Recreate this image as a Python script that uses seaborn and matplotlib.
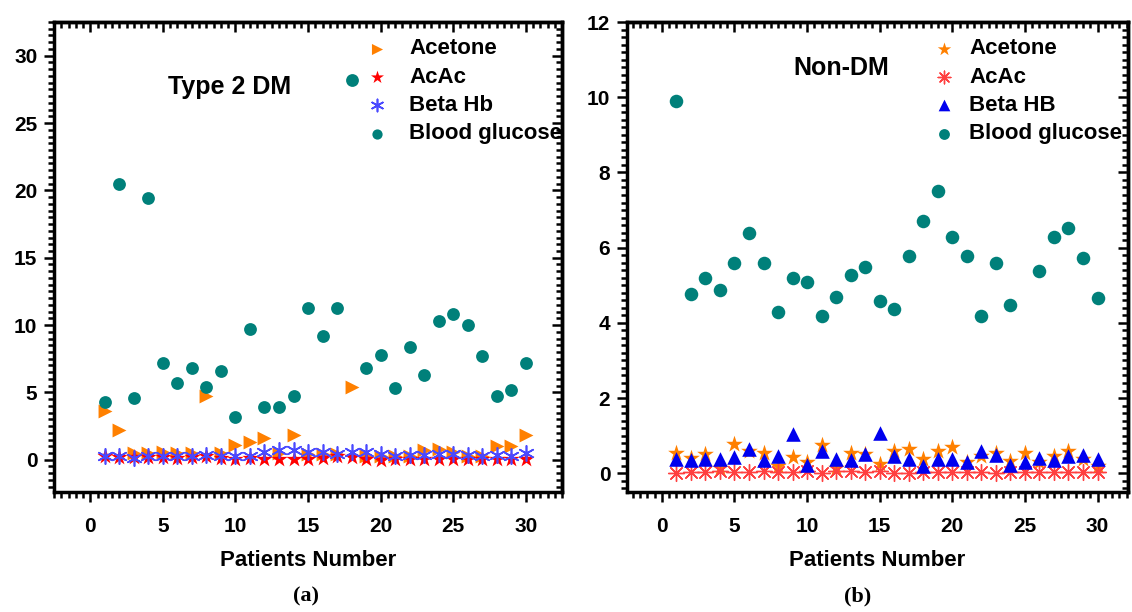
import numpy as np
import matplotlib
matplotlib.use("Agg")
import matplotlib.pyplot as plt
from matplotlib.ticker import MultipleLocator
import seaborn as sns

patients = list(range(1, 31))

# (a) Type 2 DM
t2_acetone = [3.6, 2.2, 0.5, 0.5, 0.6, 0.5, 0.5, 4.7, 0.5, 1.1, 1.3, 1.6, 0.5, 1.8, 0.4,
              0.4, 0.4, 5.4, 0.3, 0.3, 0.3, 0.3, 0.7, 0.8, 0.6, 0.3, 0.3, 1.0, 1.0, 1.8]
t2_acac = [0.25, 0.2, 0.2, 0.2, 0.2, 0.15, 0.2, 0.25, 0.15, 0.05, 0.1, 0.05, 0.05, 0.05, 0.05,
           0.1, 0.25, 0.2, 0.05, 0.0, 0.05, 0.05, 0.05, 0.05, 0.05, 0.05, 0.05, 0.05, 0.05, 0.05]
t2_betahb = [0.3, 0.3, 0.1, 0.3, 0.3, 0.3, 0.3, 0.35, 0.25, 0.25, 0.3, 0.6, 0.75, 0.75, 0.55,
             0.55, 0.4, 0.6, 0.6, 0.4, 0.3, 0.35, 0.35, 0.4, 0.4, 0.35, 0.3, 0.35, 0.3, 0.5]
t2_glucose = [4.3, 20.5, 4.6, 19.4, 7.2, 5.7, 6.8, 5.4, 6.6, 3.2, 9.7, 3.9, 3.9, 4.7, 11.3,
              9.2, 11.3, 28.2, 6.8, 7.8, 5.3, 8.4, 6.3, 10.3, 10.8, 10.0, 7.7, 4.7, 5.2, 7.2]

# (b) Non-DM
nd_acetone = [0.53, 0.4, 0.5, 0.15, 0.77, 0.6, 0.55, 0.18, 0.44, 0.3, 0.75, 0.15, 0.53, 0.5, 0.24,
              0.59, 0.64, 0.39, 0.59, 0.71, 0.29, 0.46, 0.53, 0.33, 0.53, 0.29, 0.46, 0.59, 0.37, 0.18]
nd_acac = [0.0, 0.02, 0.02, 0.05, 0.02, 0.02, 0.05, 0.02, 0.02, 0.05, 0.0, 0.05, 0.05, 0.03, 0.05,
           0.0, 0.0, 0.03, 0.02, 0.02, 0.02, 0.02, 0.0, 0.02, 0.02, 0.02, 0.02, 0.02, 0.02, 0.02]
nd_betahb = [0.37, 0.36, 0.37, 0.39, 0.42, 0.64, 0.36, 0.46, 1.04, 0.21, 0.58, 0.37, 0.35, 0.51, 1.06,
             0.46, 0.37, 0.18, 0.37, 0.39, 0.31, 0.59, 0.49, 0.23, 0.31, 0.41, 0.36, 0.46, 0.49, 0.39]
nd_glucose = [9.9, 4.78, 5.18, 4.88, 5.58, 6.38, 5.58, 4.3, 5.18, 5.08, 4.17, 4.68, 5.28, 5.48, 4.58,
              4.37, 5.79, 6.7, 7.5, 6.29, 5.79, 4.19, 5.58, 4.48, np.nan, 5.38, 6.29, 6.51, 5.72, 4.65]

sns.set_theme(style="ticks")
plt.rcParams["font.family"] = ["Liberation Sans", "DejaVu Sans"]
plt.rcParams["font.weight"] = "bold"
plt.rcParams["text.color"] = "black"
plt.rcParams["axes.labelcolor"] = "black"
plt.rcParams["xtick.color"] = "black"
plt.rcParams["ytick.color"] = "black"

fig = plt.figure(figsize=(11.32, 6.12), dpi=100)
ax_a = fig.add_axes([0.0477, 0.196, 0.4488, 0.768])
ax_b = fig.add_axes([0.5539, 0.196, 0.4426, 0.768])

teal = "#00807a"
orange = "#ff8000"

sns.scatterplot(x=patients, y=t2_acetone, marker=">", color=orange, s=100, linewidth=0, label="Acetone", ax=ax_a)
sns.scatterplot(x=patients, y=t2_acac, marker="*", color="#ff0000", s=150, linewidth=0, label="AcAc", ax=ax_a)
sns.scatterplot(x=patients, y=t2_betahb, marker=(6, 2, 0), color="#4a4aff", s=120, linewidth=1.2,
                label="Beta Hb", ax=ax_a)
sns.scatterplot(x=patients, y=t2_glucose, marker="o", color=teal, s=85, linewidth=0, label="Blood glucose", ax=ax_a)

sns.scatterplot(x=patients, y=nd_acetone, marker="*", color=orange, s=160, linewidth=0, label="Acetone", ax=ax_b)
sns.scatterplot(x=patients, y=nd_acac, marker=(8, 2, 0), color="#ff4040", s=130, linewidth=1.0,
                label="AcAc", ax=ax_b)
sns.scatterplot(x=patients, y=nd_betahb, marker="^", color="#0000ee", s=110, linewidth=0, label="Beta HB", ax=ax_b)
sns.scatterplot(x=patients, y=nd_glucose, marker="o", color=teal, s=95, linewidth=0, label="Blood glucose", ax=ax_b)


def style_axes(ax, xlim, ylim, ymajor, yminor):
    ax.set_xlim(*xlim)
    ax.set_ylim(*ylim)
    ax.xaxis.set_major_locator(MultipleLocator(5))
    ax.xaxis.set_minor_locator(MultipleLocator(0.5))
    ax.yaxis.set_major_locator(MultipleLocator(ymajor))
    ax.yaxis.set_minor_locator(MultipleLocator(yminor))
    ax.tick_params(which="both", direction="out", width=1.8, color="black", top=False, right=False)
    ax.tick_params(which="major", length=7)
    ax.tick_params(which="minor", length=4)
    ax.tick_params(axis="x", pad=11, labelsize=15)
    ax.tick_params(axis="y", pad=5, labelsize=15)
    for s in ax.spines.values():
        s.set_linewidth(2.5)
        s.set_color("black")
    top = ax.secondary_xaxis("top")
    top.xaxis.set_major_locator(MultipleLocator(5))
    top.xaxis.set_minor_locator(MultipleLocator(0.5))
    top.tick_params(which="both", direction="in", width=1.8, labeltop=False)
    top.tick_params(which="major", length=7)
    top.tick_params(which="minor", length=4)
    top.spines["top"].set_linewidth(2.5)
    right = ax.secondary_yaxis("right")
    right.yaxis.set_major_locator(MultipleLocator(ymajor))
    right.yaxis.set_minor_locator(MultipleLocator(yminor))
    right.tick_params(which="both", direction="in", width=1.8, labelright=False)
    right.tick_params(which="major", length=7)
    right.tick_params(which="minor", length=4)
    right.spines["right"].set_linewidth(2.5)
    ax.set_xlabel("Patients Number", fontsize=16, fontweight="bold", labelpad=10)
    ax.set_ylabel("")


style_axes(ax_a, (-2.5, 32.5), (-2.4, 32.5), 5, 0.5)
style_axes(ax_b, (-2.4, 32.1), (-0.5, 12), 2, 0.2)

ax_a.legend(loc="upper left", bbox_to_anchor=(0.616, 0.965), frameon=False,
            prop={"weight": "bold", "size": 16}, handlelength=0.9, handletextpad=1.0,
            labelspacing=0.33, borderpad=0, borderaxespad=0, markerscale=0.8)
ax_b.legend(loc="upper left", bbox_to_anchor=(0.612, 0.965), frameon=False,
            prop={"weight": "bold", "size": 16}, handlelength=0.9, handletextpad=0.7,
            labelspacing=0.33, borderpad=0, borderaxespad=0, markerscale=0.8)

ax_a.text(0.224, 0.862, "Type 2 DM", transform=ax_a.transAxes, fontsize=18, fontweight="bold", va="center")
ax_b.text(0.333, 0.902, "Non-DM", transform=ax_b.transAxes, fontsize=18, fontweight="bold", va="center")

fig.text(306 / 1132, 1 - 596 / 612, "(a)", ha="center", va="center", fontsize=16,
         family="Liberation Serif", fontweight="bold")
fig.text(858 / 1132, 1 - 596 / 612, "(b)", ha="center", va="center", fontsize=16,
         family="Liberation Serif", fontweight="bold")

plt.savefig("out.png", dpi=100)
